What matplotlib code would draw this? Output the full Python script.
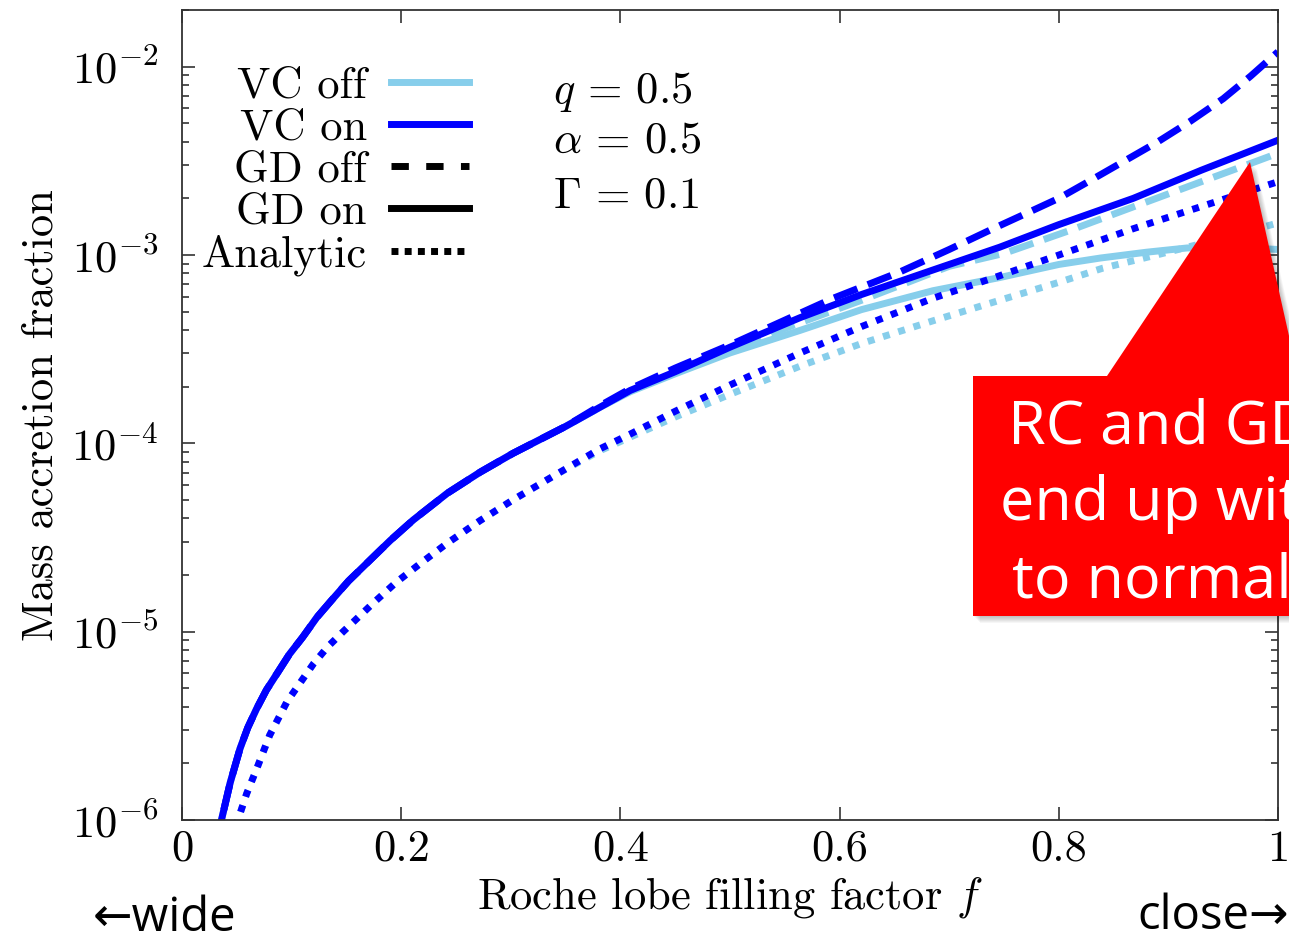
"""Mass accretion fraction vs Roche lobe filling factor, with callout."""
import numpy as np
import matplotlib
matplotlib.use('Agg')
from matplotlib import pyplot as plt
from matplotlib.patches import Polygon
from matplotlib.lines import Line2D

plt.rcParams['font.family'] = 'serif'
plt.rcParams['font.serif'] = ['cmr10']
plt.rcParams['mathtext.fontset'] = 'cm'
plt.rcParams['axes.formatter.use_mathtext'] = True
plt.rcParams['axes.unicode_minus'] = False

light = '#87CEEB'
dark = '#0000FF'

#
# Data
#

## VC on, GD on
f_on_on = [0.030, 0.036, 0.044, 0.053, 0.060, 0.068, 0.077, 0.087, 0.098, 0.110,
           0.123, 0.137, 0.152, 0.169, 0.190, 0.211, 0.242, 0.272, 0.302, 0.350,
           0.381, 0.409, 0.450, 0.500, 0.564, 0.620, 0.685, 0.746, 0.800, 0.868,
           0.930, 1.000]
m_on_on = [7.4e-7, 1.0e-6, 1.58e-6, 2.40e-6, 3.09e-6, 3.89e-6, 4.90e-6, 6.03e-6,
           7.59e-6, 9.33e-6, 1.19e-5, 1.48e-5, 1.86e-5, 2.32e-5, 3.05e-5, 3.92e-5,
           5.43e-5, 7.03e-5, 8.85e-5, 1.23e-4, 1.55e-4, 1.91e-4, 2.40e-4, 3.24e-4,
           4.65e-4, 6.17e-4, 8.32e-4, 1.10e-3, 1.45e-3, 2.00e-3, 2.82e-3, 4.07e-3]

## VC on, GD off
f_on_off = [0.030, 0.036, 0.044, 0.053, 0.060, 0.068, 0.077, 0.087, 0.098, 0.110,
            0.123, 0.137, 0.152, 0.169, 0.190, 0.211, 0.242, 0.272, 0.302, 0.350,
            0.381, 0.409, 0.450, 0.503, 0.594, 0.655, 0.700, 0.740, 0.770, 0.800,
            0.830, 0.860, 0.890, 0.920, 0.950, 0.975, 1.000]
m_on_off = [7.4e-7, 1.0e-6, 1.58e-6, 2.40e-6, 3.09e-6, 3.89e-6, 4.90e-6, 6.03e-6,
            7.59e-6, 9.33e-6, 1.19e-5, 1.48e-5, 1.86e-5, 2.32e-5, 3.05e-5, 3.92e-5,
            5.43e-5, 7.03e-5, 8.85e-5, 1.23e-4, 1.58e-4, 1.95e-4, 2.51e-4, 3.39e-4,
            5.89e-4, 8.13e-4, 1.07e-3, 1.38e-3, 1.66e-3, 2.00e-3, 2.51e-3, 3.16e-3,
            3.98e-3, 5.13e-3, 6.76e-3, 8.91e-3, 1.20e-2]

## VC off, GD on
f_off_on = [0.030, 0.036, 0.044, 0.053, 0.060, 0.068, 0.077, 0.087, 0.098, 0.110,
            0.123, 0.137, 0.152, 0.169, 0.190, 0.211, 0.242, 0.272, 0.302, 0.350,
            0.381, 0.409, 0.450, 0.500, 0.564, 0.620, 0.685, 0.746, 0.800, 0.838,
            0.880, 0.917, 0.960, 1.000]
m_off_on = [7.4e-7, 1.0e-6, 1.58e-6, 2.40e-6, 3.09e-6, 3.89e-6, 4.90e-6, 6.03e-6,
            7.59e-6, 9.33e-6, 1.19e-5, 1.48e-5, 1.86e-5, 2.32e-5, 3.05e-5, 3.92e-5,
            5.43e-5, 7.03e-5, 8.85e-5, 1.23e-4, 1.55e-4, 1.88e-4, 2.34e-4, 3.02e-4,
            3.98e-4, 5.13e-4, 6.46e-4, 7.59e-4, 8.91e-4, 9.64e-4, 1.035e-3, 1.09e-3,
            1.10e-3, 1.07e-3]

## VC off, GD off
f_off_off = [0.030, 0.036, 0.044, 0.053, 0.060, 0.068, 0.077, 0.087, 0.098, 0.110,
             0.123, 0.137, 0.152, 0.169, 0.190, 0.211, 0.242, 0.272, 0.302, 0.350,
             0.381, 0.409, 0.450, 0.500, 0.564, 0.620, 0.700, 0.750, 0.810, 0.870,
             0.930, 1.000]
m_off_off = [7.4e-7, 1.0e-6, 1.58e-6, 2.40e-6, 3.09e-6, 3.89e-6, 4.90e-6, 6.03e-6,
             7.59e-6, 9.33e-6, 1.19e-5, 1.48e-5, 1.86e-5, 2.32e-5, 3.05e-5, 3.92e-5,
             5.43e-5, 7.03e-5, 8.85e-5, 1.23e-4, 1.55e-4, 1.91e-4, 2.39e-4, 3.16e-4,
             4.37e-4, 5.75e-4, 8.71e-4, 1.02e-3, 1.35e-3, 1.82e-3, 2.45e-3, 3.47e-3]

## Analytic, VC on
f_an_on = [0.045, 0.051, 0.059, 0.068, 0.080, 0.096, 0.108, 0.120, 0.133, 0.147,
           0.160, 0.174, 0.195, 0.217, 0.242, 0.272, 0.302, 0.340, 0.381, 0.409,
           0.450, 0.500, 0.564, 0.620, 0.685, 0.746, 0.800, 0.868, 0.953, 1.000]
m_an_on = [7.6e-7, 1.0e-6, 1.38e-6, 1.86e-6, 2.82e-6, 4.27e-6, 5.37e-6, 6.76e-6,
           8.32e-6, 1.0e-5, 1.18e-5, 1.41e-5, 1.82e-5, 2.29e-5, 2.95e-5, 3.89e-5,
           5.01e-5, 6.76e-5, 9.33e-5, 1.12e-4, 1.48e-4, 2.04e-4, 3.02e-4, 4.17e-4,
           5.89e-4, 7.76e-4, 1.0e-3, 1.38e-3, 2.0e-3, 2.45e-3]

## Analytic, VC off
f_an_off = [0.045, 0.051, 0.059, 0.068, 0.080, 0.096, 0.108, 0.120, 0.133, 0.147,
            0.160, 0.174, 0.195, 0.217, 0.242, 0.272, 0.302, 0.340, 0.381, 0.450,
            0.500, 0.564, 0.620, 0.685, 0.746, 0.800, 0.840, 0.892, 0.950, 1.000]
m_an_off = [7.6e-7, 1.0e-6, 1.38e-6, 1.86e-6, 2.82e-6, 4.27e-6, 5.37e-6, 6.76e-6,
            8.32e-6, 1.0e-5, 1.18e-5, 1.41e-5, 1.82e-5, 2.29e-5, 2.95e-5, 3.89e-5,
            5.01e-5, 6.76e-5, 9.12e-5, 1.38e-4, 1.82e-4, 2.57e-4, 3.39e-4, 4.47e-4,
            5.75e-4, 7.16e-4, 8.51e-4, 1.01e-3, 1.23e-3, 1.48e-3]

params = [r'$q\,=\,0.5$', r'$\alpha\,=\,0.5$', r'$\Gamma\,=\,0.1$']
callout = ['RC and GD models', 'end up with similar results', 'to normal']


#
# Plot
#
W, H = 1289, 935
fs = 32
fig = plt.figure(figsize=(W/100, H/100), dpi=100)
ax = fig.add_axes([182/W, 1-820/H, (1278-182)/W, (820-10)/H])

lw = 5
dash = (3.6, 1.6)
dot = (1.0, 1.3)
ax.plot(f_an_off, m_an_off, color=light, lw=lw, ls=(0, dot))
ax.plot(f_off_off, m_off_off, color=light, lw=lw, ls=(0, dash))
ax.plot(f_off_on, m_off_on, color=light, lw=lw)
ax.plot(f_an_on, m_an_on, color=dark, lw=lw, ls=(0, dot))
ax.plot(f_on_off, m_on_off, color=dark, lw=lw, ls=(0, dash))
ax.plot(f_on_on, m_on_on, color=dark, lw=lw)

ax.set_yscale('log')
ax.set_xlim(0, 1)
ax.set_ylim(1e-6, 2e-2)
ax.set_xticks([0, 0.2, 0.4, 0.6, 0.8, 1.0])
ax.set_xticklabels(['0', '0.2', '0.4', '0.6', '0.8', '1'])
ax.tick_params(which='both', direction='in', top=True, right=True,
               labelsize=fs, width=1.1, color='#222222')
ax.tick_params(which='major', length=9.5, pad=7)
ax.tick_params(which='minor', length=5)
ax.tick_params(axis='y', which='major', pad=17)
for s in ax.spines.values():
    s.set_linewidth(1.3)
    s.set_color('#333333')

ax.set_xlabel(r'Roche lobe filling factor $f$', fontsize=fs)
ax.set_ylabel('Mass accretion fraction', fontsize=fs)
ax.xaxis.set_label_coords(0.5, -0.068)
ax.yaxis.set_label_coords(-0.11, 0.5)

## Legend
handles = [Line2D([], [], color=light, lw=lw),
           Line2D([], [], color=dark, lw=lw),
           Line2D([], [], color='k', lw=lw, ls=(0, (2.5, 2.5))),
           Line2D([], [], color='k', lw=lw),
           Line2D([], [], color='k', lw=lw, ls=(0, (1.0, 0.9)))]
labels = ['VC off', 'VC on', 'GD off', 'GD on', 'Analytic']
ax.legend(handles, labels, loc='upper left', bbox_to_anchor=(0.018, 0.93),
          frameon=False, markerfirst=False, fontsize=fs, handlelength=1.75,
          handletextpad=0.55, labelspacing=0.04, borderpad=0, borderaxespad=0)

for i, p in enumerate(params):
    ax.text(0.3385, [0.899, 0.838, 0.770][i], p, fontsize=fs,
            transform=ax.transAxes, va='center', ha='left')


## Callout
def px(x, y):
    return (x/W, 1-y/H)

shape = [(973, 376), (1107, 376), (1250, 162), (1298, 376), (1400, 376),
         (1400, 616), (973, 616)]
for k in range(1, 8):
    fig.patches.append(Polygon([px(x+k, y+k) for x, y in shape], closed=True,
                               transform=fig.transFigure, facecolor='k',
                               edgecolor='none', alpha=0.035, zorder=5))
fig.patches.append(Polygon([px(x, y) for x, y in shape], closed=True,
                           transform=fig.transFigure, facecolor='#FF0000',
                           edgecolor='none', zorder=6))
for (x0, y0), line in zip([(1008, 443), (1000, 520), (1012, 597)], callout):
    fig.text(*px(x0, y0), line, color='white', fontsize=44, ha='left',
             va='baseline', family=['Open Sans', 'DejaVu Sans'], zorder=7)

fig.text(*px(93, 931), u'\u2190wide', fontsize=34, ha='left', va='baseline',
         family=['Open Sans', 'DejaVu Sans'])
fig.text(*px(1289, 929), u'close\u2192', fontsize=34, ha='right', va='baseline',
         family=['Open Sans', 'DejaVu Sans'])

plt.savefig('out.png', dpi=100)
